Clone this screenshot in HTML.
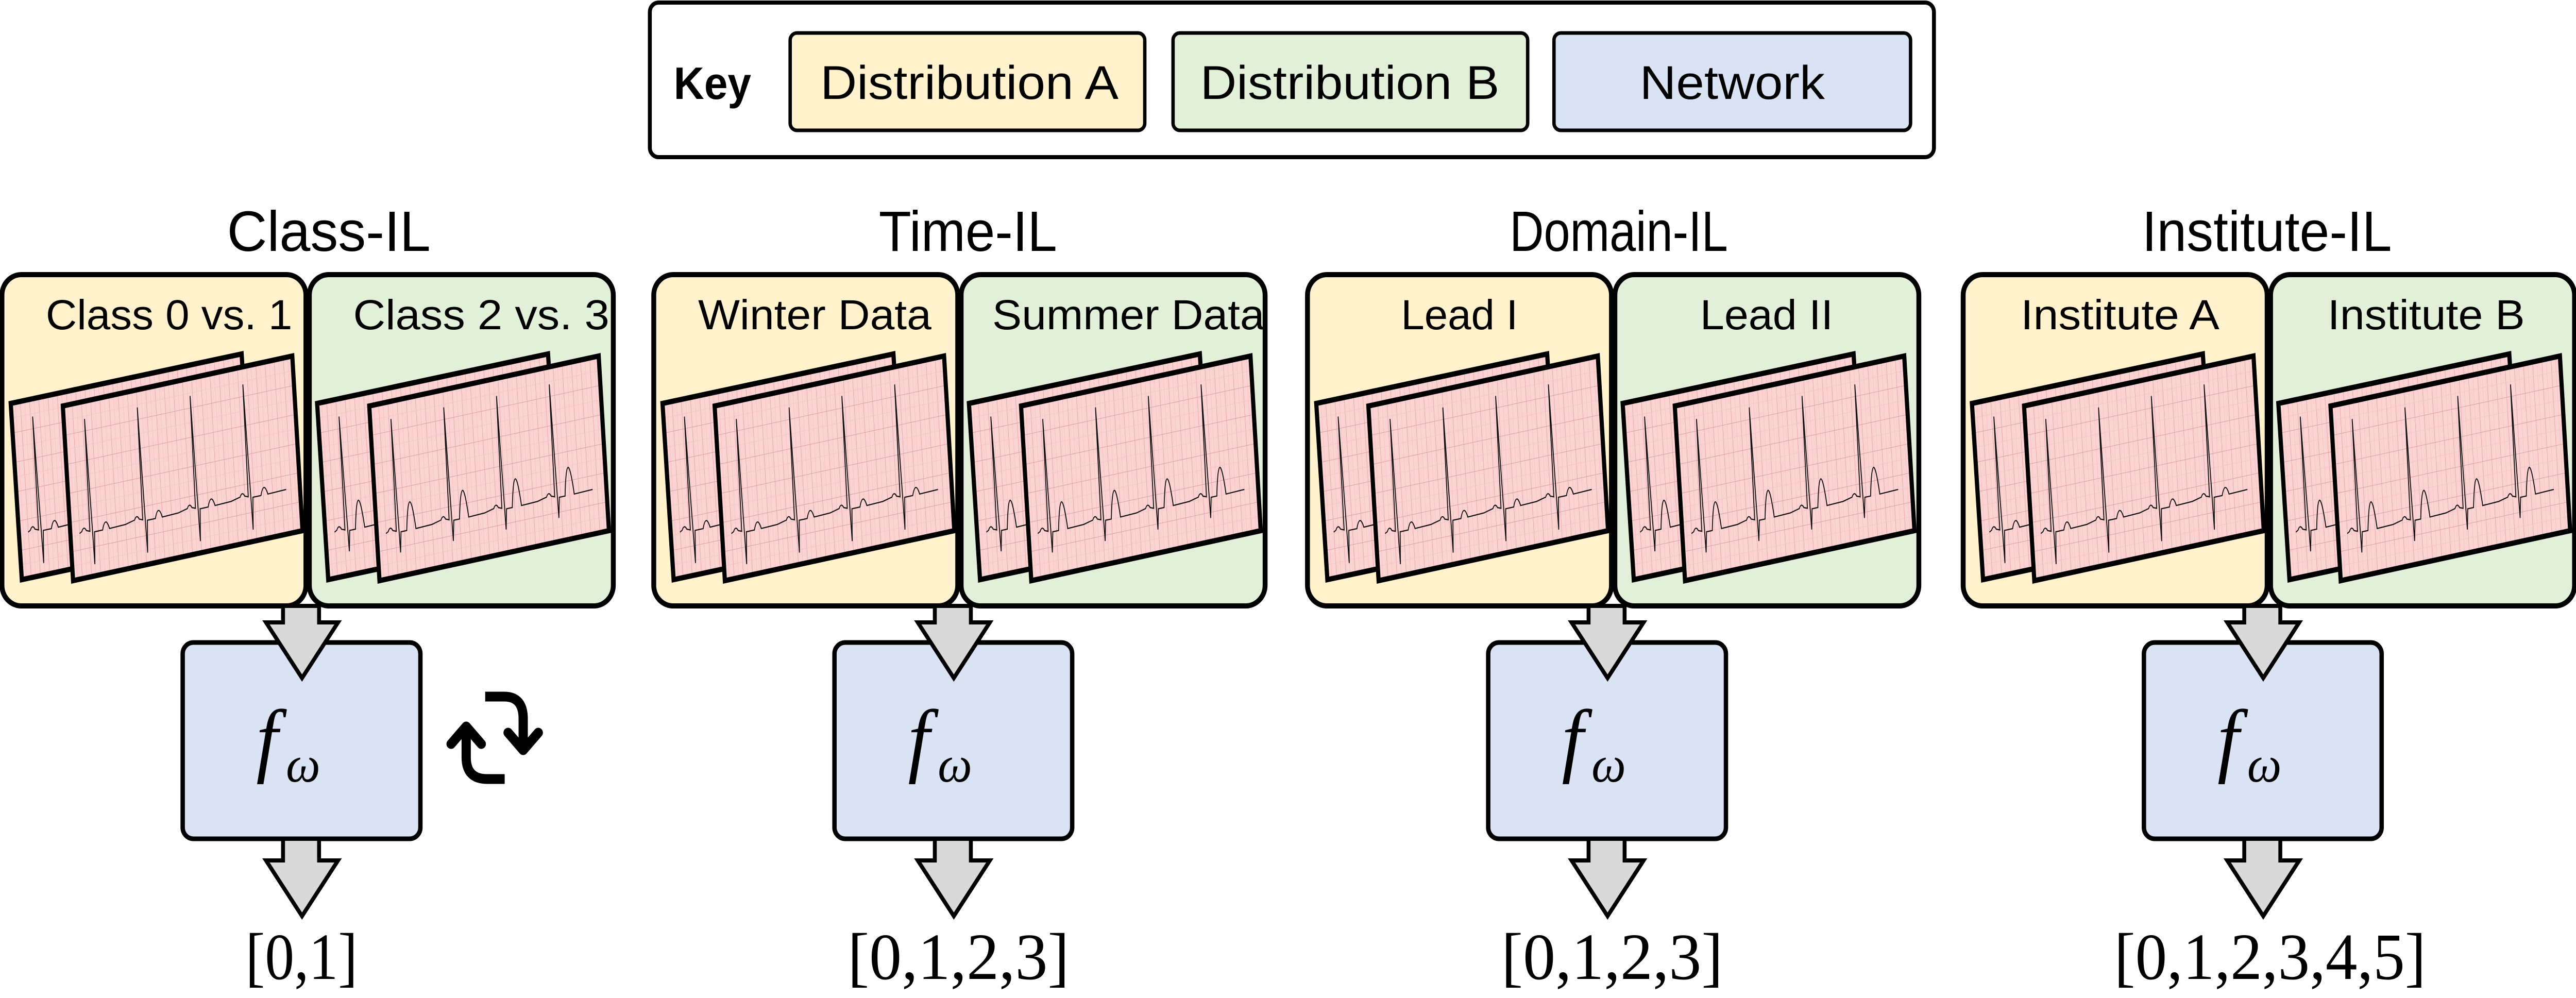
<!DOCTYPE html>
<html><head><meta charset="utf-8"><style>
html,body{margin:0;padding:0;background:#fff;overflow:hidden;width:100%;height:100%;}
svg{display:block;width:100vw;height:100vh;}
text{font-family:"Liberation Sans",Arial,sans-serif;fill:#000;}
.serif{font-family:"Liberation Serif","Times New Roman",serif;}
</style></head><body>
<svg viewBox="0 0 5288 1937" preserveAspectRatio="none" xmlns="http://www.w3.org/2000/svg">
<defs>
<pattern id="grid" x="0" y="0" width="40" height="100" patternUnits="userSpaceOnUse">
<line x1="0" y1="0" x2="0" y2="100" stroke="#dc9a9a" stroke-width="3"/>
<line x1="20" y1="0" x2="20" y2="100" stroke="#efb9b9" stroke-width="1.5"/>
<line x1="0" y1="0" x2="40" y2="0" stroke="#d49595" stroke-width="3"/>
<line x1="0" y1="50" x2="40" y2="50" stroke="#efc0c0" stroke-width="1.5"/>
</pattern>
<g id="cardA">
<rect x="0" y="0" width="1000" height="600" fill="#fbd3d3"/>
<rect x="0" y="0" width="1000" height="600" fill="url(#grid)"/>
<path d="M40 445 L50 440 Q60 420 70 440 L85 445 L90 60 L98 560 L105 450 L140 450 Q155 400 170 450 L240 448 L280 440 Q290 420 300 440 L315 445 L320 60 L328 560 L335 450 L370 450 Q385 400 400 450 L470 448 L510 440 Q520 420 530 440 L545 445 L550 60 L558 560 L565 450 L600 450 Q615 400 630 450 L700 448 L740 440 Q750 420 760 440 L775 445 L780 60 L788 560 L795 450 L830 450 Q845 400 860 450 L940 448" fill="none" stroke="#111" stroke-width="4"/>
<rect x="0" y="0" width="1000" height="600" fill="none" stroke="#000" stroke-width="18"/>
</g>
<g id="cardB">
<rect x="0" y="0" width="1000" height="600" fill="#fbd3d3"/>
<rect x="0" y="0" width="1000" height="600" fill="url(#grid)"/>
<path d="M40 445 L50 440 Q60 420 70 440 L85 445 L90 60 L98 520 L105 450 L130 450 Q150 260 170 450 L240 448 L280 440 Q290 420 300 440 L315 445 L320 60 L328 520 L335 450 L360 450 Q380 260 400 450 L470 448 L510 440 Q520 420 530 440 L545 445 L550 60 L558 520 L565 450 L590 450 Q610 260 630 450 L700 448 L740 440 Q750 420 760 440 L775 445 L780 60 L788 520 L795 450 L820 450 Q840 260 860 450 L940 448" fill="none" stroke="#111" stroke-width="4"/>
<rect x="0" y="0" width="1000" height="600" fill="none" stroke="#000" stroke-width="18"/>
</g>
<g id="col">
<rect x="0" y="533" width="624" height="643" rx="40" fill="#fff2cc" stroke="#000" stroke-width="10"/>
<rect x="631" y="533" width="624" height="643" rx="40" fill="#e2f0d9" stroke="#000" stroke-width="10"/>
<use href="#cardA" transform="matrix(0.474,-0.096,0.038,0.57,18,783)"/>
<use href="#cardA" transform="matrix(0.471,-0.097,0.035,0.565,125,788)"/>
<use href="#cardB" transform="matrix(0.474,-0.096,0.038,0.57,647,783)"/>
<use href="#cardB" transform="matrix(0.471,-0.097,0.035,0.565,754,788)"/>
<rect x="371" y="1247" width="488" height="381" rx="22" fill="#dae3f3" stroke="#000" stroke-width="9"/>
<polygon points="577,1176 651,1176 651,1208 690,1208 616,1316 542,1208 577,1208" fill="#d9d9d9" stroke="#000" stroke-width="8"/>
<polygon points="577,1628 651,1628 651,1670 690,1670 616,1778 542,1670 577,1670" fill="#d9d9d9" stroke="#000" stroke-width="8"/>
<text class="serif" x="522" y="1488" font-size="160" font-style="italic">f</text>
<text class="serif" x="583" y="1517" font-size="100" font-style="italic">ω</text>
</g>
</defs>

<!-- Key -->
<rect x="1334" y="5" width="2636" height="300" rx="18" fill="#fff" stroke="#000" stroke-width="8"/>
<text x="1383" y="192" font-size="88" font-weight="bold" textLength="159" lengthAdjust="spacingAndGlyphs">Key</text>
<rect x="1622" y="64" width="728" height="189" rx="14" fill="#fff2cc" stroke="#000" stroke-width="7"/>
<rect x="2408" y="64" width="728" height="189" rx="14" fill="#e2f0d9" stroke="#000" stroke-width="7"/>
<rect x="3190" y="64" width="732" height="189" rx="14" fill="#dae3f3" stroke="#000" stroke-width="7"/>
<text x="1684" y="192" font-size="92" textLength="612" lengthAdjust="spacingAndGlyphs">Distribution A</text>
<text x="2464" y="192" font-size="92" textLength="614" lengthAdjust="spacingAndGlyphs">Distribution B</text>
<text x="3366" y="192" font-size="92" textLength="380" lengthAdjust="spacingAndGlyphs">Network</text>

<!-- Titles -->
<text x="466" y="487" font-size="110" textLength="418" lengthAdjust="spacingAndGlyphs">Class-IL</text>
<text x="1804" y="487" font-size="110" textLength="366" lengthAdjust="spacingAndGlyphs">Time-IL</text>
<text x="3099" y="487" font-size="110" textLength="448" lengthAdjust="spacingAndGlyphs">Domain-IL</text>
<text x="4397" y="487" font-size="110" textLength="513" lengthAdjust="spacingAndGlyphs">Institute-IL</text>

<use href="#col" transform="translate(4,0)"/>
<use href="#col" transform="translate(1342,0)"/>
<use href="#col" transform="translate(2684,0)"/>
<use href="#col" transform="translate(4030,0)"/>

<!-- Panel labels -->
<text x="94" y="639" font-size="82" textLength="506" lengthAdjust="spacingAndGlyphs">Class 0 vs. 1</text>
<text x="725" y="639" font-size="82" textLength="526" lengthAdjust="spacingAndGlyphs">Class 2 vs. 3</text>
<text x="1433" y="639" font-size="82" textLength="479" lengthAdjust="spacingAndGlyphs">Winter Data</text>
<text x="2037" y="639" font-size="82" textLength="559" lengthAdjust="spacingAndGlyphs">Summer Data</text>
<text x="2876" y="639" font-size="82" textLength="240" lengthAdjust="spacingAndGlyphs">Lead I</text>
<text x="3490" y="639" font-size="82" textLength="273" lengthAdjust="spacingAndGlyphs">Lead II</text>
<text x="4148" y="639" font-size="82" textLength="408" lengthAdjust="spacingAndGlyphs">Institute A</text>
<text x="4778" y="639" font-size="82" textLength="405" lengthAdjust="spacingAndGlyphs">Institute B</text>

<!-- Outputs -->
<text class="serif" x="504" y="1900" font-size="128" textLength="230" lengthAdjust="spacingAndGlyphs">[0,1]</text>
<text class="serif" x="1740" y="1900" font-size="128" textLength="455" lengthAdjust="spacingAndGlyphs">[0,1,2,3]</text>
<text class="serif" x="3082" y="1900" font-size="128" textLength="455" lengthAdjust="spacingAndGlyphs">[0,1,2,3]</text>
<text class="serif" x="4340" y="1900" font-size="128" textLength="640" lengthAdjust="spacingAndGlyphs">[0,1,2,3,4,5]</text>

<!-- refresh icon -->
<path d="M996 1352 L1035 1352 Q1074 1352 1074 1395 L1074 1450" fill="none" stroke="#000" stroke-width="19"/>
<path d="M1043 1422 L1074 1456 L1105 1422" fill="none" stroke="#000" stroke-width="19" stroke-linecap="round" stroke-linejoin="round"/>
<path d="M1036 1512 L1000 1512 Q957 1512 957 1470 L957 1415" fill="none" stroke="#000" stroke-width="19"/>
<path d="M926 1444 L957 1410 L988 1444" fill="none" stroke="#000" stroke-width="19" stroke-linecap="round" stroke-linejoin="round"/>
</svg>
</body></html>
